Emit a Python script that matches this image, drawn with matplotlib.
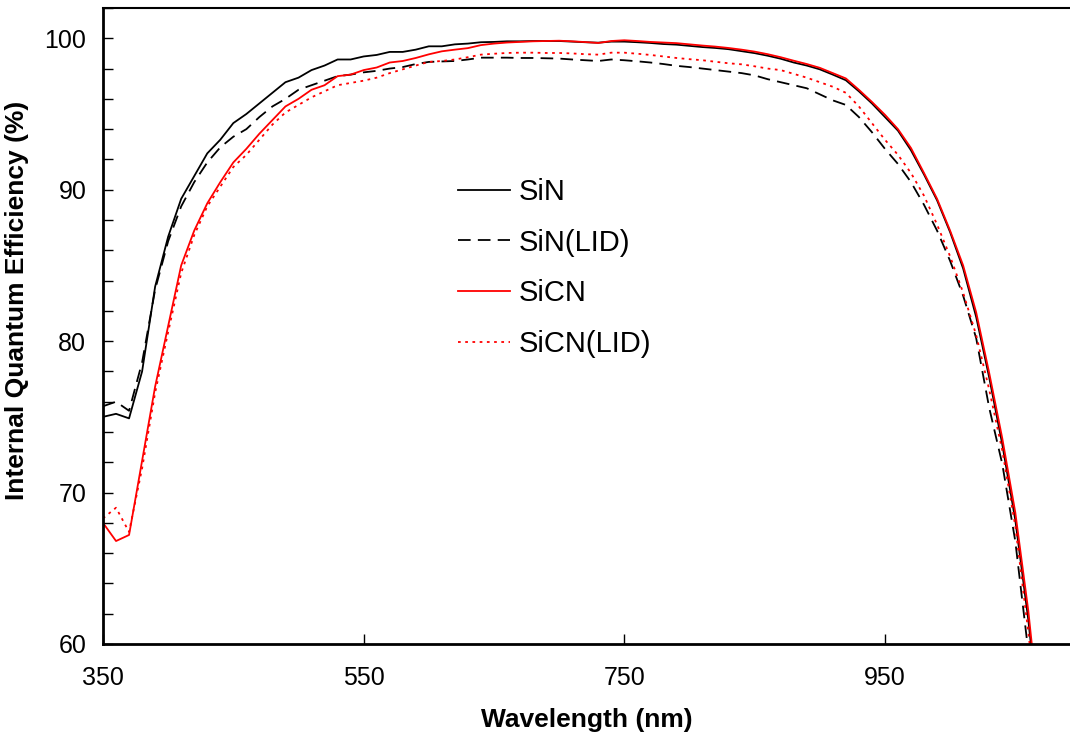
import numpy as np
from matplotlib import pyplot as plt
from matplotlib.ticker import MultipleLocator

plt.rcParams['font.family'] = ['Liberation Sans', 'DejaVu Sans']

# wavelength grid (nm)
wavelength = list(range(350, 1080, 10))

sin = [75.0, 75.2, 74.9, 78.0, 83.6, 86.9, 89.4, 90.9, 92.4, 93.3,
       94.4, 95.0, 95.7, 96.4, 97.1, 97.4, 97.9, 98.2, 98.6, 98.6,
       98.8, 98.9, 99.1, 99.1, 99.25, 99.47, 99.47, 99.6, 99.65, 99.74,
       99.76, 99.8, 99.8, 99.82, 99.82, 99.82, 99.78, 99.74, 99.71, 99.78,
       99.78, 99.74, 99.69, 99.62, 99.58, 99.5, 99.42, 99.36, 99.28, 99.15,
       99.02, 98.85, 98.65, 98.4, 98.2, 97.95, 97.6, 97.23, 96.5, 95.7,
       94.8, 93.9, 92.6, 91.0, 89.3, 87.2, 84.8, 81.6, 77.6, 73.2,
       68.2, 61.6, 53.5]

sin_lid = [75.7, 76.0, 75.4, 78.6, 83.4, 86.6, 88.9, 90.5, 91.8, 92.8,
           93.5, 94.0, 94.8, 95.5, 96.0, 96.6, 96.9, 97.2, 97.5, 97.6,
           97.75, 97.85, 98.0, 98.1, 98.3, 98.44, 98.47, 98.5, 98.6, 98.72,
           98.72, 98.72, 98.7, 98.7, 98.68, 98.66, 98.6, 98.55, 98.5, 98.6,
           98.55, 98.48, 98.4, 98.3, 98.18, 98.1, 98.0, 97.9, 97.8, 97.7,
           97.55, 97.3, 97.1, 96.9, 96.7, 96.3, 95.9, 95.6, 94.8, 93.8,
           92.7, 91.7, 90.5, 89.0, 87.3, 85.3, 83.0, 80.2, 75.6, 71.9,
           66.8, 59.5, 52.0]

sicn = [68.0, 66.8, 67.2, 72.1, 77.0, 81.0, 85.0, 87.3, 89.1, 90.5,
        91.8, 92.7, 93.7, 94.6, 95.5, 96.0, 96.6, 96.9, 97.5, 97.6,
        97.9, 98.07, 98.4, 98.5, 98.7, 98.94, 99.14, 99.25, 99.35, 99.55,
        99.65, 99.72, 99.76, 99.8, 99.82, 99.84, 99.8, 99.75, 99.69, 99.82,
        99.87, 99.82, 99.76, 99.72, 99.68, 99.6, 99.52, 99.45, 99.36, 99.25,
        99.12, 98.95, 98.75, 98.52, 98.3, 98.05, 97.7, 97.35, 96.6, 95.8,
        94.95, 94.0, 92.75, 91.1, 89.4, 87.3, 85.0, 81.9, 77.9, 73.6,
        68.7, 62.2, 54.0]

sicn_lid = [68.3, 69.0, 67.4, 71.6, 76.6, 80.6, 84.5, 87.0, 88.9, 90.2,
            91.5, 92.3, 93.3, 94.3, 95.1, 95.6, 96.1, 96.5, 96.9, 97.05,
            97.2, 97.4, 97.7, 97.95, 98.2, 98.44, 98.5, 98.6, 98.75, 98.92,
            98.98, 99.03, 99.05, 99.05, 99.03, 99.03, 99.0, 98.95, 98.92, 99.05,
            99.05, 98.98, 98.9, 98.8, 98.7, 98.62, 98.55, 98.45, 98.35, 98.28,
            98.15, 98.0, 97.9, 97.65, 97.4, 97.1, 96.8, 96.4, 95.5, 94.4,
            93.3, 92.3, 91.1, 89.6, 87.7, 85.6, 83.2, 80.4, 76.8, 72.8,
            67.8, 60.8, 53.0]

fig = plt.figure(figsize=(10.7, 7.38), dpi=100)
ax = fig.add_axes([103/1070, 94/738, 967/1070, 636/738])

ax.plot(wavelength, sin, color='black', lw=1.3, label='SiN')
ax.plot(wavelength, sin_lid, color='black', lw=1.3, dashes=(7, 4), label='SiN(LID)')
ax.plot(wavelength, sicn, color='red', lw=1.3, label='SiCN')
ax.plot(wavelength, sicn_lid, color='red', lw=1.3, dashes=(1.5, 2.5), label='SiCN(LID)')

ax.set_xlim(350, 1092)
ax.set_ylim(60, 102)
ax.set_xticks([350, 550, 750, 950])
ax.yaxis.set_major_locator(MultipleLocator(10))
ax.yaxis.set_minor_locator(MultipleLocator(2))
ax.tick_params(axis='both', which='both', direction='in', length=7, width=1, labelsize=18)
ax.tick_params(axis='x', pad=16)
ax.tick_params(axis='y', pad=12)
ax.spines['right'].set_visible(False)
ax.spines['left'].set_linewidth(2)
ax.spines['bottom'].set_linewidth(2)
ax.spines['top'].set_linewidth(1.5)

ax.set_xlabel('Wavelength (nm)', fontsize=19, fontweight='bold', labelpad=13)
ax.set_ylabel('Internal Quantum Efficiency (%)', fontsize=19, fontweight='bold')
ax.yaxis.set_label_coords(-0.077, 0.541)

ax.legend(loc='upper left', bbox_to_anchor=(0.367, 0.733), frameon=False, fontsize=21,
          handlelength=1.8, handletextpad=0.3, labelspacing=0.78, borderpad=0, borderaxespad=0)

plt.savefig('out.png', dpi=100)
